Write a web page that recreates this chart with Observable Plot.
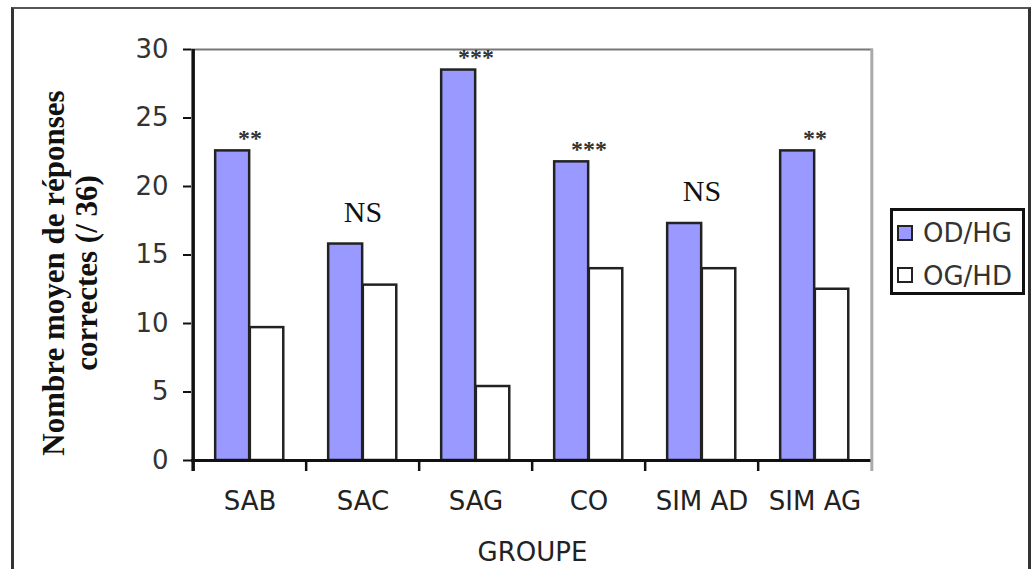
<!DOCTYPE html>
<html><head><meta charset="utf-8">
<script src="https://cdn.jsdelivr.net/npm/d3@7"></script>
<script src="https://cdn.jsdelivr.net/npm/@observablehq/plot@0.6"></script>
<style>
html,body{margin:0;padding:0;background:#fff;overflow:hidden;}
#wrap{position:relative;width:1032px;height:569px;overflow:hidden;font-family:"DejaVu Sans",sans-serif;}
#chart{position:absolute;left:0;top:0;}
#outer{position:absolute;left:11px;top:7px;width:1014px;height:620px;border:3px solid #333;border-top:2px solid #555;pointer-events:none;}
#legend{position:absolute;left:890px;top:208px;width:135px;height:87px;border:3px solid #111;box-sizing:border-box;background:#fff;}
.sw{position:absolute;left:4px;width:12px;height:12px;border:2px solid #222;}
.lt{position:absolute;left:30px;font-size:26px;color:#333;line-height:1;white-space:nowrap;}
</style></head>
<body><div id="wrap"><div id="chart"></div><div id="outer"></div><div id="legend"></div></div>
<script>
const groups = ["SAB", "SAC", "SAG", "CO", "SIM AD", "SIM AG"];
const series = ["OD/HG", "OG/HD"];
const odhg = [22.6, 15.8, 28.5, 21.8, 17.3, 22.6];
const oghd = [9.7, 12.8, 5.4, 14.0, 14.0, 12.5];
const signif = ["**", "NS", "***", "***", "NS", "**"];
const yTicks = [0, 5, 10, 15, 20, 25, 30];
const seriesColors = ["#9999ff", "#ffffff"];
const yTitle = "Nombre moyen de réponses\ncorrectes (/ 36)";
const xTitle = "GROUPE";

const W = 1032, H = 569, mL = 191, mR = 159, mT = 49, mB = 109;
const band = (W - mL - mR) / groups.length;

const rows = groups.flatMap((g, i) => [
  {group: g, series: series[0], value: odhg[i]},
  {group: g, series: series[1], value: oghd[i]}
]);
const sig = groups.map((g, i) => ({group: g, value: odhg[i], label: signif[i]}));

const chart = Plot.plot({
  width: W, height: H,
  marginLeft: mL, marginRight: mR, marginTop: mT, marginBottom: mB,
  style: {fontFamily: "DejaVu Sans", fontSize: "26px", color: "#333", background: "transparent"},
  x: {domain: groups, padding: 0, label: null, axis: null},
  y: {domain: [0, 30], label: null, axis: null},
  color: {domain: series, range: seriesColors},
  marks: [
    Plot.ruleY([30], {stroke: "#777", strokeWidth: 2}),
    Plot.barY(rows.filter(d => d.series === series[0]), {
      x: "group", y: "value", fill: "series", stroke: "#222", strokeWidth: 2.5,
      insetLeft: band * 0.195, insetRight: band / 2
    }),
    Plot.barY(rows.filter(d => d.series === series[1]), {
      x: "group", y: "value", fill: "series", stroke: "#222", strokeWidth: 2.5,
      insetLeft: band / 2, insetRight: band * 0.2
    }),
    Plot.ruleY([0], {stroke: "#111", strokeWidth: 3}),
    Plot.ruleX(groups.slice(1), {x: d => d, y1: 0, y2: 0, insetBottom: -11, dx: -band / 2, stroke: "#111", strokeWidth: 2.5}),
    Plot.ruleX([groups[groups.length - 1]], {x: d => d, y1: 30, y2: 0, insetBottom: -11, dx: band / 2, stroke: "#aaa", strokeWidth: 3}),
    Plot.ruleX([groups[0]], {x: d => d, y1: 30, y2: 0, insetBottom: -11, dx: -band / 2, stroke: "#111", strokeWidth: 3.5}),
    Plot.axisY({ticks: yTicks, tickSize: 8, tickPadding: 15, stroke: "#111", strokeWidth: 2, fill: "#333", fontSize: 26, label: null}),
    Plot.axisX({tickSize: 0, tickPadding: 31, fill: "#222", fontSize: 26, label: null}),
    Plot.text(sig.filter(d => d.label === "NS"), {
      x: "group", y: "value", text: "label", dy: -22, lineAnchor: "bottom",
      fontFamily: "Liberation Serif", fontSize: 30, fill: "#111"
    }),
    Plot.text(sig.filter(d => d.label !== "NS"), {
      x: "group", y: "value", text: "label", dy: -5, lineAnchor: "bottom",
      fontFamily: "Liberation Serif", fontWeight: "bold", fontSize: 24, fill: "#333"
    }),
    Plot.text([yTitle], {
      text: d => d, frameAnchor: "left", rotate: -90, dx: -122, dy: 18,
      lineAnchor: "middle", textAnchor: "middle", lineHeight: 1.07,
      fontFamily: "Liberation Serif", fontWeight: "bold", fontSize: 31, fill: "#111"
    }),
    Plot.text([xTitle], {
      text: d => d, frameAnchor: "bottom", dy: 100, lineAnchor: "bottom",
      fontSize: 26, fill: "#222"
    })
  ]
});
document.getElementById("chart").appendChild(chart);

// legend
const legend = document.getElementById("legend");
const swTop = [14, 56], txtTop = [9, 52];
series.forEach((s, i) => {
  const sw = document.createElement("div");
  sw.className = "sw";
  sw.style.top = swTop[i] + "px";
  sw.style.background = chart.scale("color").apply(s);
  legend.appendChild(sw);
  const t = document.createElement("div");
  t.className = "lt";
  t.style.top = txtTop[i] + "px";
  t.textContent = s;
  legend.appendChild(t);
});
</script>
</body></html>
